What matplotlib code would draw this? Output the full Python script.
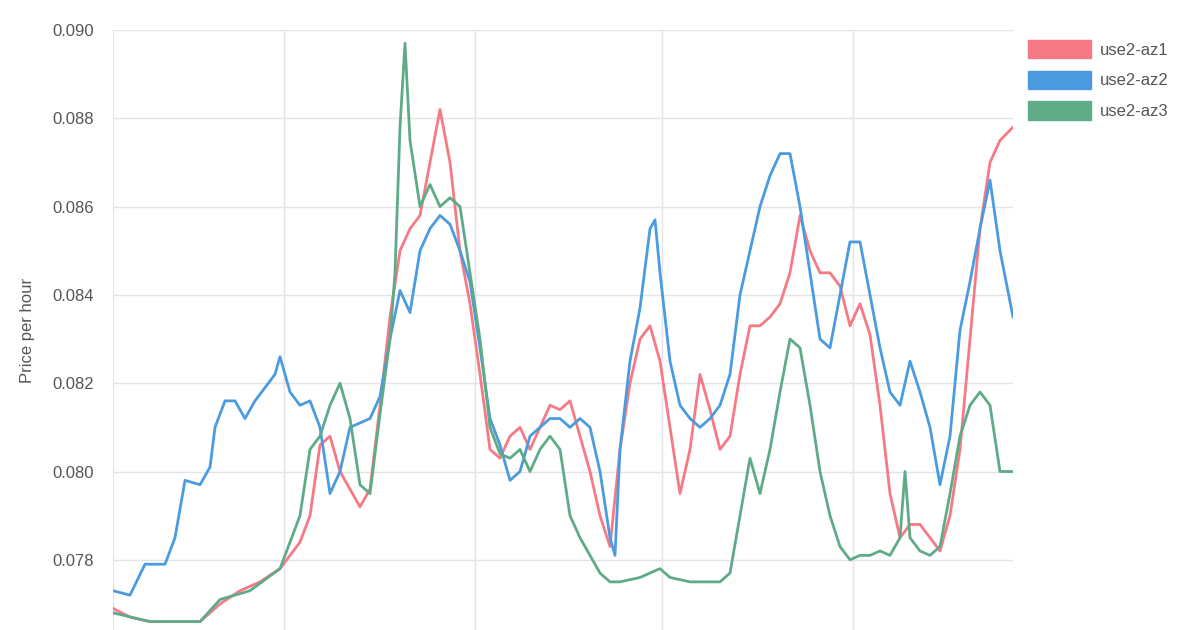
import matplotlib
matplotlib.use("Agg")
import matplotlib.pyplot as plt
from matplotlib.patches import Patch

plt.rcParams['font.family'] = ['Liberation Sans', 'DejaVu Sans']

x_blue = [113,130,145,165,175,185,200,210,215,225,235,245,255,265,275,280,290,300,310,320,330,340,350,360,370,380,390,400,410,420,430,440,450,460,470,480,490,500,510,520,530,540,550,560,570,580,590,600,610,615,620,630,640,650,655,660,670,680,690,700,710,720,730,740,750,760,770,780,790,800,810,820,830,840,850,860,870,880,890,900,910,920,930,940,950,960,970,980,990,1000,1013]
az2 = [0.0773,0.0772,0.0779,0.0779,0.0785,0.0798,0.0797,0.0801,0.0810,0.0816,0.0816,0.0812,0.0816,0.0819,0.0822,0.0826,0.0818,0.0815,0.0816,0.0810,0.0795,0.0800,0.0810,0.0811,0.0812,0.0817,0.0830,0.0841,0.0836,0.0850,0.0855,0.0858,0.0856,0.0850,0.0843,0.0828,0.0812,0.0806,0.0798,0.0800,0.0808,0.0810,0.0812,0.0812,0.0810,0.0812,0.0810,0.0800,0.0785,0.0781,0.0805,0.0825,0.0837,0.0855,0.0857,0.0845,0.0825,0.0815,0.0812,0.0810,0.0812,0.0815,0.0822,0.0840,0.0850,0.0860,0.0867,0.0872,0.0872,0.0860,0.0845,0.0830,0.0828,0.0840,0.0852,0.0852,0.0840,0.0828,0.0818,0.0815,0.0825,0.0818,0.0810,0.0797,0.0808,0.0832,0.0843,0.0855,0.0866,0.0850,0.0835]

x_red = [113,130,150,200,220,240,260,280,300,310,320,330,340,350,360,370,380,390,400,410,420,430,440,450,460,470,480,490,500,510,520,530,540,550,560,570,580,590,600,610,620,630,640,650,660,670,680,690,700,710,720,730,740,750,760,770,780,790,800,810,820,830,840,850,860,870,880,890,900,910,920,930,940,950,960,970,980,990,1000,1013]
az1 = [0.0769,0.0767,0.0766,0.0766,0.0770,0.0773,0.0775,0.0778,0.0784,0.0790,0.0806,0.0808,0.0800,0.0796,0.0792,0.0796,0.0815,0.0835,0.0850,0.0855,0.0858,0.0870,0.0882,0.0870,0.0850,0.0838,0.0822,0.0805,0.0803,0.0808,0.0810,0.0805,0.0810,0.0815,0.0814,0.0816,0.0808,0.0800,0.0790,0.0783,0.0805,0.0820,0.0830,0.0833,0.0825,0.0810,0.0795,0.0805,0.0822,0.0814,0.0805,0.0808,0.0822,0.0833,0.0833,0.0835,0.0838,0.0845,0.0858,0.0850,0.0845,0.0845,0.0842,0.0833,0.0838,0.0831,0.0815,0.0795,0.0785,0.0788,0.0788,0.0785,0.0782,0.0790,0.0805,0.0830,0.0855,0.0870,0.0875,0.0878]

x_green = [113,150,200,220,250,280,300,310,320,330,340,350,360,370,380,390,395,400,405,410,420,430,440,450,460,470,480,490,500,510,520,530,540,550,560,570,580,590,600,610,620,640,660,670,690,720,730,740,750,760,770,780,790,800,810,820,830,840,850,860,870,880,890,900,905,910,920,930,940,950,960,970,980,990,1000,1013]
az3 = [0.0768,0.0766,0.0766,0.0771,0.0773,0.0778,0.0790,0.0805,0.0808,0.0815,0.0820,0.0812,0.0797,0.0795,0.0813,0.0830,0.0845,0.0878,0.0897,0.0875,0.0860,0.0865,0.0860,0.0862,0.0860,0.0845,0.0830,0.0810,0.0804,0.0803,0.0805,0.0800,0.0805,0.0808,0.0805,0.0790,0.0785,0.0781,0.0777,0.0775,0.0775,0.0776,0.0778,0.0776,0.0775,0.0775,0.0777,0.0790,0.0803,0.0795,0.0805,0.0818,0.0830,0.0828,0.0815,0.0800,0.0790,0.0783,0.0780,0.0781,0.0781,0.0782,0.0781,0.0785,0.0800,0.0785,0.0782,0.0781,0.0783,0.0795,0.0808,0.0815,0.0818,0.0815,0.0800,0.0800]

series = ["use2-az1", "use2-az2", "use2-az3"]
colors = ["#f67a86", "#4a9be0", "#5fab87"]
vgrid = [113, 284, 475, 662, 853]
yticks = [0.078, 0.080, 0.082, 0.084, 0.086, 0.088, 0.090]

fig = plt.figure(figsize=(12, 6.3), dpi=100)
ax = fig.add_axes([113/1200, 0, 900/1200, 600/630])
ax.plot(x_red, az1, color=colors[0], lw=2)
ax.plot(x_blue, az2, color=colors[1], lw=2)
ax.plot(x_green, az3, color=colors[2], lw=2)
ax.set_xlim(113, 1013)
ax.set_ylim(0.07641, 0.090)
ax.set_xticks(vgrid)
ax.set_xticklabels([])
ax.set_yticks(yticks)
ax.set_yticklabels([f"{v:.3f}" for v in yticks], fontsize=12, color="#555555")
ax.tick_params(axis="both", length=0, pad=14)
ax.grid(True, color="#e3e3e8", lw=1)
ax.set_axisbelow(True)
for s in ax.spines.values():
    s.set_visible(False)
ax.set_ylabel("Price per hour", fontsize=12, color="#555555", labelpad=12)
handles = [Patch(facecolor=c, edgecolor=c) for c in colors]
fig.legend(handles, series, loc="upper left", bbox_to_anchor=(1028/1200, 1-40/630),
           frameon=False, fontsize=12, handlelength=3.8, handleheight=1.3,
           handletextpad=0.5, borderpad=0, borderaxespad=0,
           labelspacing=0.75, labelcolor="#555555")
fig.savefig("out.png")
